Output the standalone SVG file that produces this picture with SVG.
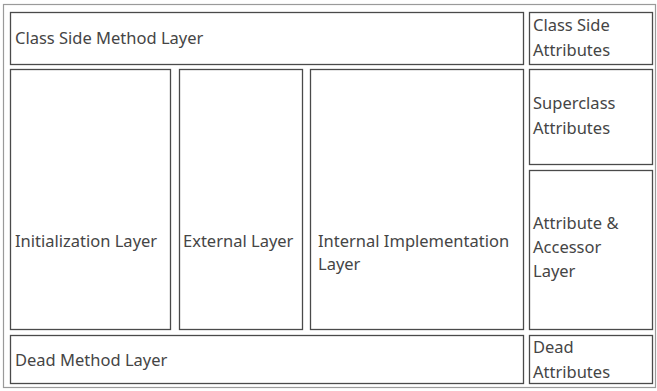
<svg xmlns="http://www.w3.org/2000/svg" width="657" height="391" viewBox="0 0 657 391">
<style>
.frame{fill:#fff;stroke:#9a9a9a;stroke-width:1.2}
.box{fill:#fff;stroke:#4a4a4a;stroke-width:1.3}
text{font-family:"Noto Sans",Lato,sans-serif;font-size:16.5px;fill:#454545}
</style>
<rect width="657" height="391" fill="#fff"/>
<g id="frame"><rect class="frame" x="3.5" y="4.5" width="652" height="383"/></g>
<g id="class-side-method"><rect class="box" x="10.5" y="12.5" width="513" height="52"/><text x="15" y="44">Class Side Method Layer</text></g>
<g id="class-side-attributes"><rect class="box" x="529.5" y="12.5" width="123" height="52"/><text x="533" y="31">Class Side</text><text x="533" y="56">Attributes</text></g>
<g id="initialization"><rect class="box" x="10.5" y="69.5" width="160" height="260"/><text x="15" y="247">Initialization Layer</text></g>
<g id="external"><rect class="box" x="179.5" y="69.5" width="123" height="260"/><text x="183" y="247">External Layer</text></g>
<g id="internal"><rect class="box" x="310.5" y="69.5" width="213" height="260"/><text x="318" y="247">Internal Implementation</text><text x="318" y="270">Layer</text></g>
<g id="superclass-attributes"><rect class="box" x="529.5" y="69.5" width="123" height="95"/><text x="533" y="109">Superclass</text><text x="533" y="134">Attributes</text></g>
<g id="attribute-accessor"><rect class="box" x="529.5" y="170.5" width="123" height="159"/><text x="533" y="229">Attribute &amp;</text><text x="533" y="253">Accessor</text><text x="533" y="277">Layer</text></g>
<g id="dead-method"><rect class="box" x="10.5" y="335.5" width="513" height="48"/><text x="15" y="366">Dead Method Layer</text></g>
<g id="dead-attributes"><rect class="box" x="529.5" y="335.5" width="123" height="48"/><text x="533" y="353">Dead</text><text x="533" y="378">Attributes</text></g>
<g id="connectors"></g>
</svg>
